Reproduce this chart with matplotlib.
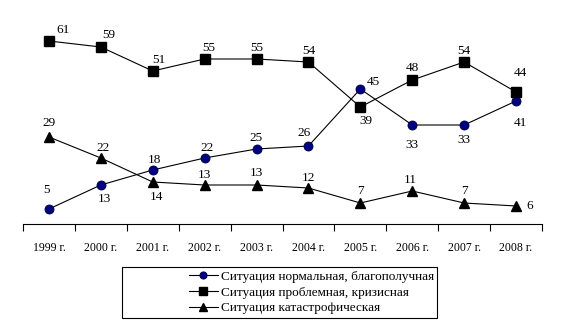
import matplotlib
matplotlib.use("Agg")
import matplotlib.pyplot as plt
from matplotlib.patches import Rectangle

plt.rcParams['font.family'] = ['Liberation Serif', 'DejaVu Serif']

years = ["1999 г.", "2000 г.", "2001 г.", "2002 г.", "2003 г.",
         "2004 г.", "2005 г.", "2006 г.", "2007 г.", "2008 г."]
normal = [5, 13, 18, 22, 25, 26, 45, 33, 33, 41]
problem = [61, 59, 51, 55, 55, 54, 39, 48, 54, 44]
catastrophic = [29, 22, 14, 13, 13, 12, 7, 11, 7, 6]

names = ["Ситуация нормальная, благополучная",
         "Ситуация проблемная, кризисная",
         "Ситуация катастрофическая"]

# label offsets in pixels (dx, dy), y up
off_normal = [(-2, 19), (4, -14), (2, 10), (2, 10), (-1, 11), (-4, 13),
              (13, 7), (0, -20), (0, -15), (4, -22)]
off_problem = [(14, 11), (8, 12), (6, 11), (4, 11), (0, 11), (0, 11),
               (6, -14), (0, 12), (0, 11), (4, 19)]
off_cat = [(0, 14), (2, 10), (4, -15), (0, 10), (0, 12), (0, 10),
           (0, 12), (-2, 11), (0, 12), (14, 0)]

fig = plt.figure(figsize=(5.66, 3.33), dpi=100)
ax = fig.add_axes([23 / 566, 109 / 333, 519 / 566, 210 / 333])

x = list(range(len(years)))
l1, = ax.plot(x, normal, color='black', lw=0.8, marker='o', ms=6.5,
              mfc='#000080', mec='#000040', mew=0.6)
l2, = ax.plot(x, problem, color='black', lw=0.8, marker='s', ms=7,
              mfc='black', mec='black')
l3, = ax.plot(x, catastrophic, color='black', lw=0.8, marker='^', ms=7.5,
              mfc='black', mec='black')

for vals, offs in ((normal, off_normal), (problem, off_problem), (catastrophic, off_cat)):
    for xi, v, (dx, dy) in zip(x, vals, offs):
        ax.annotate(str(v), (xi, v), xytext=(dx, dy), textcoords='offset pixels',
                    ha='center', va='center', fontsize=9.5)

ax.set_xlim(-0.5, len(years) - 0.5)
ax.set_ylim(0, 70)
for s in ('top', 'right', 'left'):
    ax.spines[s].set_visible(False)
ax.spines['bottom'].set_linewidth(0.8)
ax.set_yticks([])
ax.set_xticks(x)
ax.set_xticklabels(years, fontsize=8.5)
ax.set_xticks([i - 0.5 for i in range(len(years) + 1)], minor=True)
ax.tick_params(axis='x', which='major', length=0, pad=13)
ax.tick_params(axis='x', which='minor', length=5, width=0.8, direction='out')

fig.patches.append(Rectangle((122 / 566, 15 / 333), 315 / 566, 51 / 333,
                             transform=fig.transFigure, fill=False,
                             edgecolor='black', lw=0.8))
leg = fig.legend([l1, l2, l3], names, loc='center left',
                 bbox_to_anchor=(182 / 566, 40.5 / 333), frameon=False,
                 fontsize=9.5, handlelength=2.2, handletextpad=0.25,
                 labelspacing=0.25, borderpad=0, markerscale=0.8)

fig.savefig("out.png", dpi=100)
